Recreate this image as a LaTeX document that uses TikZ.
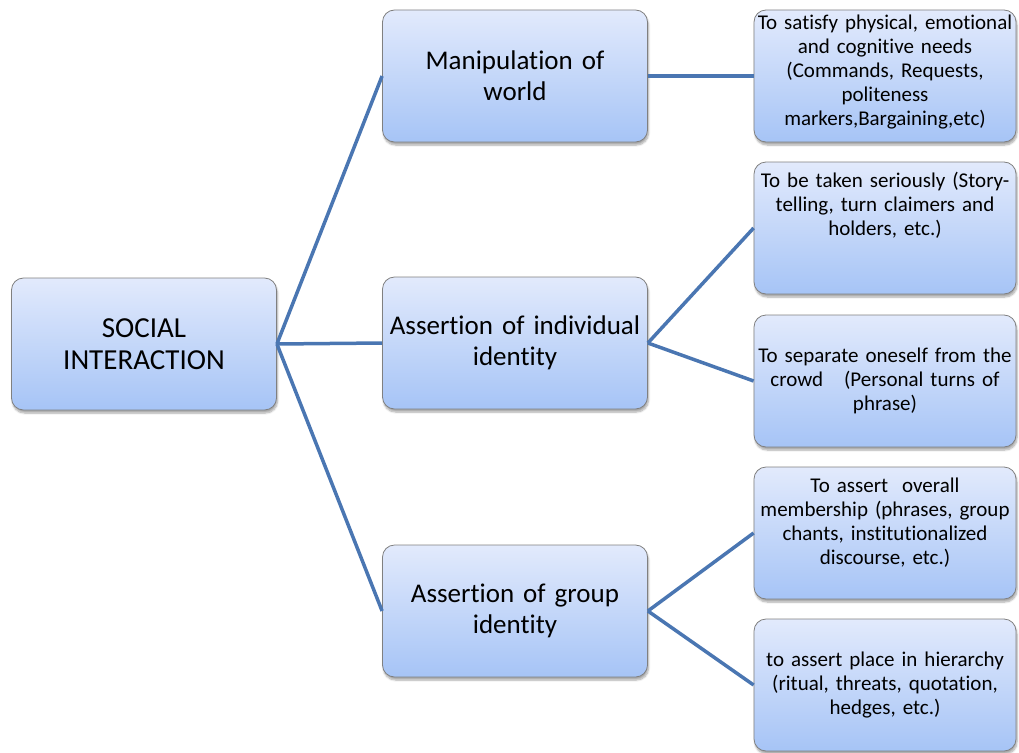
\documentclass[tikz,border=0pt]{standalone}
\usepackage{fontspec}
\setmainfont{Carlito}[Ligatures=NoCommon]
\usetikzlibrary{shadows.blur}
\definecolor{linkblue}{RGB}{74,118,178}
\definecolor{boxtop}{RGB}{226,234,252}
\definecolor{boxbottom}{RGB}{166,196,246}
\tikzset{
  bluebox/.style={draw=black!50, line width=0.8pt, rounded corners=12pt,
    top color=boxtop, bottom color=boxbottom, align=center,
    blur shadow={shadow xshift=1pt, shadow yshift=-3pt, shadow blur steps=6, shadow opacity=35},
    minimum height=132pt, inner sep=2pt},
  bigbox/.style={bluebox, minimum width=265pt, text width=260pt,
    font=\fontsize{27}{31}\selectfont},
  leafbox/.style={bluebox, minimum width=262pt, text width=258pt, inner sep=1pt,
    font=\fontsize{21}{24}\selectfont},
  link/.style={draw=linkblue, line width=3.5pt}
}

\begin{document}
\begin{tikzpicture}[x=1pt,y=-1pt]
  \useasboundingbox (0,0) rectangle (1019,752);
  % main boxes
  \node[bigbox, font=\fontsize{29}{32}\selectfont] (social) at (144,344) {SOCIAL\\INTERACTION};
  \node[bigbox] (world) at (515,76) {Manipulation of\\world};
  \node[bigbox] (indiv) at (515,343) {Assertion of individual\\identity};
  \node[bigbox] (group) at (515,611) {Assertion of group\\identity};
  % leaves
  \node[leafbox] (needs) at (885,76) {To satisfy physical, emotional\\and cognitive needs\\(Commands, Requests,\\politeness\\markers,Bargaining,etc)\\[-12pt]~};
  \node[leafbox] (serious) at (885,228) {To be taken seriously (Story-\\telling, turn claimers and\\holders, etc.)\\~\\~};
  \node[leafbox] (crowd) at (885,381) {To separate oneself from the\\crowd\ \ \ (Personal turns of\\phrase)};
  \node[leafbox] (member) at (885,533) {To assert\ \ overall\\membership (phrases, group\\chants, institutionalized\\discourse, etc.)\\~};
  \node[leafbox] (rank) at (885,685) {to assert place in hierarchy\\(ritual, threats, quotation,\\hedges, etc.)};
  % connectors
  \draw[link] (social.east) -- (world.west);
  \draw[link] (social.east) -- (indiv.west);
  \draw[link] (social.east) -- (group.west);
  \draw[link] (world.east) -- (needs.west);
  \draw[link] (indiv.east) -- (serious.west);
  \draw[link] (indiv.east) -- (crowd.west);
  \draw[link] (group.east) -- (member.west);
  \draw[link] (group.east) -- (rank.west);
\end{tikzpicture}
\end{document}
